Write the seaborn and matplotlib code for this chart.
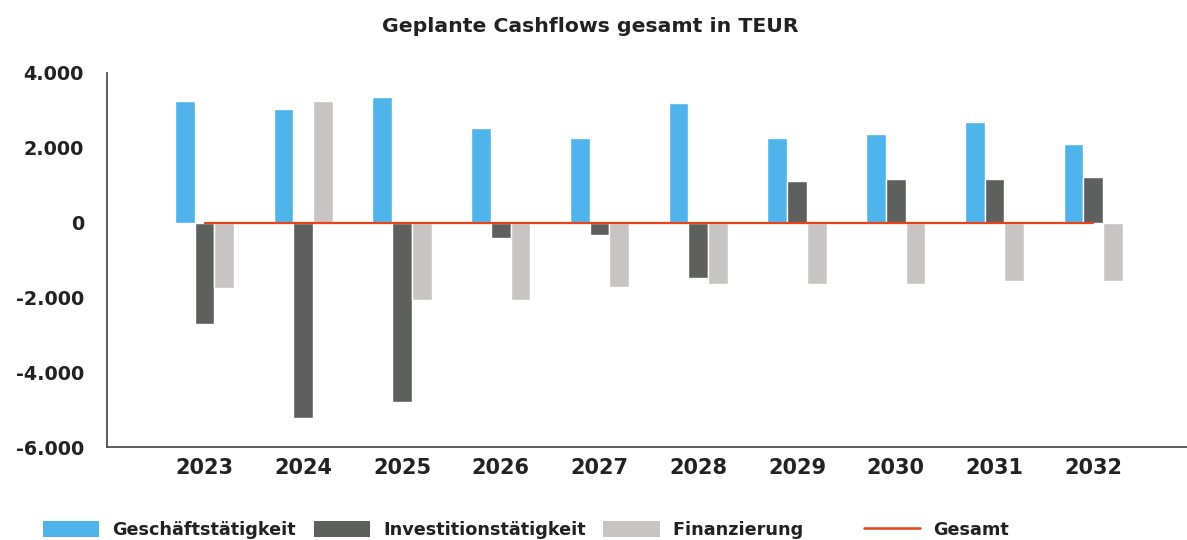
import pandas as pd
import numpy as np
import seaborn as sns
import matplotlib.pyplot as plt
from matplotlib.patches import Patch
from matplotlib.lines import Line2D
from matplotlib.ticker import FuncFormatter

# data (TEUR)
jahre = ['2023', '2024', '2025', '2026', '2027', '2028', '2029', '2030', '2031', '2032']
geschaeft = [3250, 3040, 3360, 2530, 2270, 3200, 2270, 2370, 2690, 2110]
investition = [-2720, -5230, -4800, -400, -320, -1490, 1120, 1170, 1170, 1230]
finanzierung = [-1760, 3250, -2080, -2080, -1730, -1630, -1630, -1630, -1570, -1570]
gesamt = [0, 0, 0, 0, 0, 0, 0, 0, 0, 0]

serien = ['Geschäftstätigkeit', 'Investitionstätigkeit', 'Finanzierung']
farben = ['#4fb4ec', '#5d605d', '#c9c4c4']
linie_farbe = '#e8431a'

sns.set_style('white')
plt.rcParams['font.family'] = ['DejaVu Sans']

# long format for seaborn
df = pd.DataFrame({
    'Jahr': jahre * 3,
    'Wert': geschaeft + investition + finanzierung,
    'Art': [serien[0]] * len(jahre) + [serien[1]] * len(jahre) + [serien[2]] * len(jahre),
})

fig = plt.figure(figsize=(11.87, 5.40), dpi=100)
ax = fig.add_axes([0.090, 0.172, 0.91, 0.693])

sns.barplot(data=df, x='Jahr', y='Wert', hue='Art', palette=farben, width=0.6,
            saturation=1, order=jahre, hue_order=serien, legend=False, ax=ax)
ax.plot(np.arange(len(jahre)), gesamt, color=linie_farbe, lw=1.6, zorder=3)

ax.set_ylim(-6000, 4000)
ax.set_yticks([-6000, -4000, -2000, 0, 2000, 4000])
ax.yaxis.set_major_formatter(FuncFormatter(lambda v, p: f"{int(v):,}".replace(',', '.')))
ax.set_xlim(-0.99, 9.95)
ax.set_xlabel('')
ax.set_ylabel('')

for s in ['top', 'right']:
    ax.spines[s].set_visible(False)
for s in ['left', 'bottom']:
    ax.spines[s].set_color('#505050')
    ax.spines[s].set_linewidth(1.3)

ax.tick_params(axis='y', length=0, pad=16.5, labelsize=13.8)
ax.tick_params(axis='x', length=0, pad=8, labelsize=15)
for lab in ax.get_xticklabels() + ax.get_yticklabels():
    lab.set_fontweight('bold')
    lab.set_color('#222222')

fig.suptitle('Geplante Cashflows gesamt in TEUR', x=0.497, y=0.968, fontsize=14.7,
             fontweight='bold', color='#222222')

# legend at the bottom
handles = [Patch(facecolor=c, edgecolor='none') for c in farben]
handles.append(Line2D([0], [0], color=linie_farbe, lw=1.8))
labels = serien[:2] + ['Finanzierung       ', 'Gesamt']
leg = fig.legend(handles, labels, loc='center left', bbox_to_anchor=(0.0225, 0.0185), ncol=4,
                 frameon=False, fontsize=12.7, handlelength=3.2, handleheight=1.0,
                 handletextpad=0.75, columnspacing=1.0)
for t in leg.get_texts():
    t.set_fontweight('bold')
    t.set_color('#222222')

plt.savefig('out.png', dpi=100)
